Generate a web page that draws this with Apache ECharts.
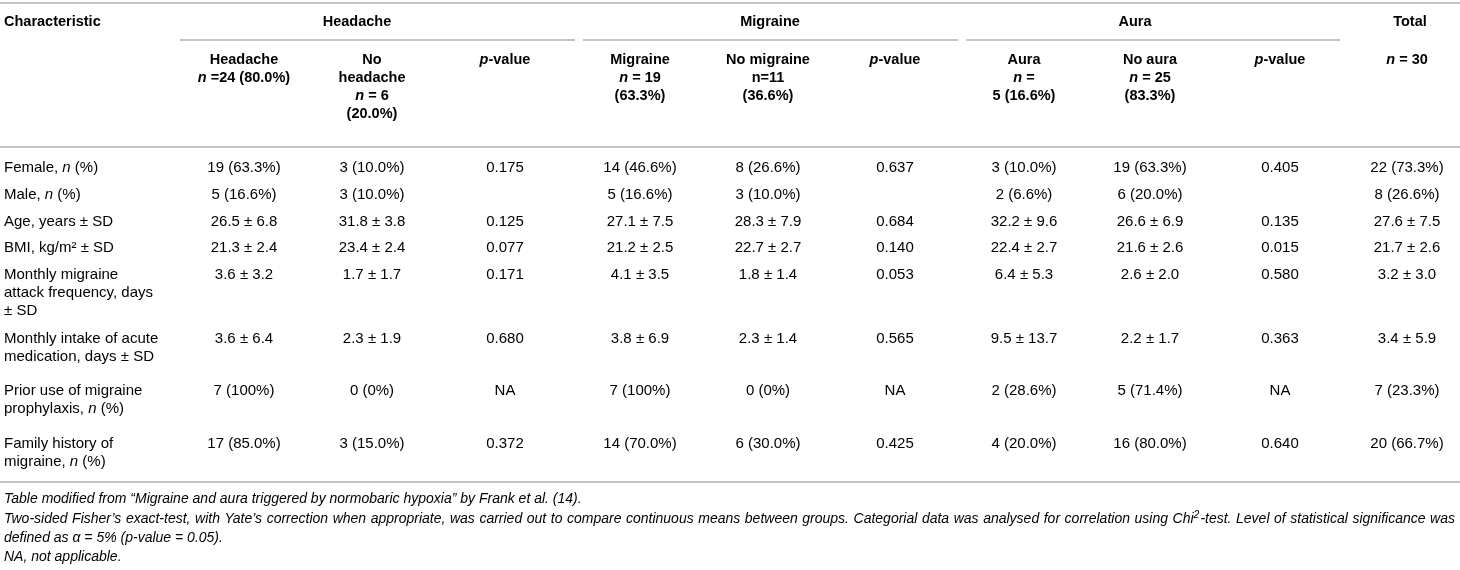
<!DOCTYPE html>
<html>
<head>
<meta charset="utf-8">
<script src="https://cdn.jsdelivr.net/npm/echarts@6/dist/echarts.min.js"></script>
<style>
  html, body { margin: 0; padding: 0; background: #fff; }
  #chart { width: 1460px; height: 570px; }
</style>
</head>
<body>
<div id="chart"></div>
<script>
// *x* = italic, ^x^ = superscript, [x] = reference link
const stubHeader = 'Characteristic';
const groupHeaders = ['Headache', 'Migraine', 'Aura', 'Total'];
const columnHeaders = [
    'Headache\n*n* =24 (80.0%)',
    'No\nheadache\n*n* = 6\n(20.0%)',
    '*p*-value',
    'Migraine\n*n* = 19\n(63.3%)',
    'No migraine\nn=11\n(36.6%)',
    '*p*-value',
    'Aura\n*n* =\n5 (16.6%)',
    'No aura\n*n* = 25\n(83.3%)',
    '*p*-value',
    '*n* = 30'
];

const characteristics = [
    'Female, *n* (%)',
    'Male, *n* (%)',
    'Age, years ± SD',
    'BMI, kg/m² ± SD',
    'Monthly migraine\nattack frequency, days\n± SD',
    'Monthly intake of acute\nmedication, days ± SD',
    'Prior use of migraine\nprophylaxis, *n* (%)',
    'Family history of\nmigraine, *n* (%)'
];
const headacheYes = ['19 (63.3%)', '5 (16.6%)', '26.5 ± 6.8', '21.3 ± 2.4', '3.6 ± 3.2', '3.6 ± 6.4', '7 (100%)', '17 (85.0%)'];
const headacheNo  = ['3 (10.0%)', '3 (10.0%)', '31.8 ± 3.8', '23.4 ± 2.4', '1.7 ± 1.7', '2.3 ± 1.9', '0 (0%)', '3 (15.0%)'];
const headacheP   = ['0.175', '', '0.125', '0.077', '0.171', '0.680', 'NA', '0.372'];
const migraineYes = ['14 (46.6%)', '5 (16.6%)', '27.1 ± 7.5', '21.2 ± 2.5', '4.1 ± 3.5', '3.8 ± 6.9', '7 (100%)', '14 (70.0%)'];
const migraineNo  = ['8 (26.6%)', '3 (10.0%)', '28.3 ± 7.9', '22.7 ± 2.7', '1.8 ± 1.4', '2.3 ± 1.4', '0 (0%)', '6 (30.0%)'];
const migraineP   = ['0.637', '', '0.684', '0.140', '0.053', '0.565', 'NA', '0.425'];
const auraYes     = ['3 (10.0%)', '2 (6.6%)', '32.2 ± 9.6', '22.4 ± 2.7', '6.4 ± 5.3', '9.5 ± 13.7', '2 (28.6%)', '4 (20.0%)'];
const auraNo      = ['19 (63.3%)', '6 (20.0%)', '26.6 ± 6.9', '21.6 ± 2.6', '2.6 ± 2.0', '2.2 ± 1.7', '5 (71.4%)', '16 (80.0%)'];
const auraP       = ['0.405', '', '0.135', '0.015', '0.580', '0.363', 'NA', '0.640'];
const totalCol    = ['22 (73.3%)', '8 (26.6%)', '27.6 ± 7.5', '21.7 ± 2.6', '3.2 ± 3.0', '3.4 ± 5.9', '7 (23.3%)', '20 (66.7%)'];

const footnotes = [
    'Table modified from “Migraine and aura triggered by normobaric hypoxia” by Frank et al. ([14]).',
    'Two-sided Fisher’s exact-test, with Yate’s correction when appropriate, was carried out to compare continuous means between groups. Categorial data was analysed for correlation using Chi^2^-test. Level of statistical significance was',
    'defined as α = 5% (p-value = 0.05).',
    'NA, not applicable.'
];
const justifiedFootnote = 1; // this line wraps in a justified paragraph

// layout (pixels, mapped through a 1:1 hidden grid)
const W = 1460, H = 570;
const colX = [4, 244, 372, 505, 640, 768, 895, 1024, 1150, 1280, 1407];
const groupX = [357, 770, 1135, 1410];
const headerRowY = 22;
const colHeaderY = 60;
const rowY = [168, 195, 222, 248, 275, 339, 391, 444];
const footX = 4, footRight = 1455;
const footY = [499, 519, 538, 557];
const lineH = 18;
const rules = [[0, W, 3], [180, 575, 40], [583, 958, 40], [966, 1340, 40], [0, W, 147], [0, W, 482]];

const FONT = '"Liberation Sans", Arial, Helvetica, sans-serif';
const INK = '#2e2e2e';
const BODY = 15, HEAD = 14.5, FOOT = 14, SUP = 10.5;

function st(extra) {
    return Object.assign({ fontFamily: FONT, fontSize: BODY, color: INK, lineHeight: lineH }, extra);
}
const richStyles = {
    r:  st({}),
    ri: st({ fontStyle: 'italic' }),
    b:  st({ fontSize: HEAD, fontWeight: 'bold' }),
    bi: st({ fontSize: HEAD, fontWeight: 'bold', fontStyle: 'italic' }),
    f:  st({ fontSize: FOOT, fontStyle: 'italic' }),
    fi: st({ fontSize: FOOT, fontStyle: 'italic' }),
    fs: st({ fontSize: SUP, fontStyle: 'italic', verticalAlign: 'top', padding: [0, 1, 5, 0] }),
    fl: st({ fontSize: FOOT, fontStyle: 'italic', color: '#5b84b1' })
};

// split one line of markup into styled pieces
function parseLine(line, base) {
    const parts = [];
    let buf = '', mode = '';
    const flush = function () {
        if (buf) {
            let name = base;
            if (mode === 'i') name = base + 'i';
            if (mode === 's') name = base === 'f' ? 'fs' : base;
            if (mode === 'l') name = base === 'f' ? 'fl' : base;
            parts.push({ text: buf, style: name });
        }
        buf = '';
    };
    for (const ch of line) {
        if (ch === '*') { flush(); mode = mode === 'i' ? '' : 'i'; }
        else if (ch === '^') { flush(); mode = mode === 's' ? '' : 's'; }
        else if (ch === '[') { flush(); mode = 'l'; }
        else if (ch === ']') { flush(); mode = ''; }
        else buf += ch;
    }
    flush();
    return parts;
}

function toRich(str, base) {
    return str.split('\n').map(function (line) {
        return parseLine(line, base).map(function (p) { return '{' + p.style + '|' + p.text + '}'; }).join('');
    }).join('\n');
}

const measureCtx = document.createElement('canvas').getContext('2d');
function measureRich(str, base) {
    let w = 0;
    parseLine(str, base).forEach(function (p) {
        const s = richStyles[p.style];
        measureCtx.font = (s.fontStyle || 'normal') + ' ' + (s.fontWeight || 'normal') + ' ' + s.fontSize + 'px ' + FONT;
        w += measureCtx.measureText(p.text).width + (s.padding ? s.padding[1] : 0);
    });
    return w;
}

// collect all text cells
const cells = [];
function addCell(x, yCenter, text, base, align, justify) {
    if (!text) return;
    const cell = { value: [x, yCenter - lineH / 2], text: toRich(text, base), align: align };
    if (justify) {
        const words = text.split(' ');
        const widths = words.map(function (w) { return measureRich(w, base); });
        const used = widths.reduce(function (a, b) { return a + b; }, 0);
        const gap = (footRight - x - used) / (words.length - 1);
        let offset = 0;
        cell.words = words.map(function (w, i) {
            const piece = { dx: offset, text: toRich(w, base) };
            offset += widths[i] + gap;
            return piece;
        });
    }
    cells.push(cell);
}

addCell(colX[0], headerRowY, stubHeader, 'b', 'left');
groupHeaders.forEach(function (g, i) { addCell(groupX[i], headerRowY, g, 'b', 'center'); });
columnHeaders.forEach(function (h, i) { addCell(colX[i + 1], colHeaderY, h, 'b', 'center'); });

const bodyColumns = [headacheYes, headacheNo, headacheP, migraineYes, migraineNo, migraineP, auraYes, auraNo, auraP, totalCol];
characteristics.forEach(function (c, r) {
    addCell(colX[0], rowY[r], c, 'r', 'left');
    bodyColumns.forEach(function (col, i) { addCell(colX[i + 1], rowY[r], col[r], 'r', 'center'); });
});
footnotes.forEach(function (f, i) { addCell(footX, footY[i], f, 'f', 'left', i === justifiedFootnote); });

function textEl(x, y, text, align) {
    return {
        type: 'text',
        x: x,
        y: y,
        style: {
            text: text,
            rich: richStyles,
            align: align,
            verticalAlign: 'top',
            fontFamily: FONT,
            fontSize: BODY,
            lineHeight: lineH
        }
    };
}

const chart = echarts.init(document.getElementById('chart'));

const option = {
    animation: false,
    backgroundColor: '#fff',
    grid: { left: 0, top: 0, width: W, height: H },
    xAxis: { type: 'value', min: 0, max: W, show: false },
    yAxis: { type: 'value', min: 0, max: H, inverse: true, show: false },
    series: [
        {
            name: 'rules',
            type: 'custom',
            silent: true,
            data: rules,
            renderItem: function (params, api) {
                const a = api.coord([api.value(0), api.value(2)]);
                const b = api.coord([api.value(1), api.value(2)]);
                return {
                    type: 'line',
                    shape: { x1: a[0], y1: a[1], x2: b[0], y2: b[1] },
                    style: { stroke: '#c4c4c4', lineWidth: 2 }
                };
            }
        },
        {
            name: 'cells',
            type: 'custom',
            silent: true,
            data: cells.map(function (c) { return c.value; }),
            renderItem: function (params, api) {
                const cell = cells[params.dataIndex];
                const p = api.coord([api.value(0), api.value(1)]);
                if (cell.words) {
                    return {
                        type: 'group',
                        children: cell.words.map(function (w) { return textEl(p[0] + w.dx, p[1], w.text, 'left'); })
                    };
                }
                return textEl(p[0], p[1], cell.text, cell.align);
            }
        }
    ]
};

chart.setOption(option);
</script>
</body>
</html>
